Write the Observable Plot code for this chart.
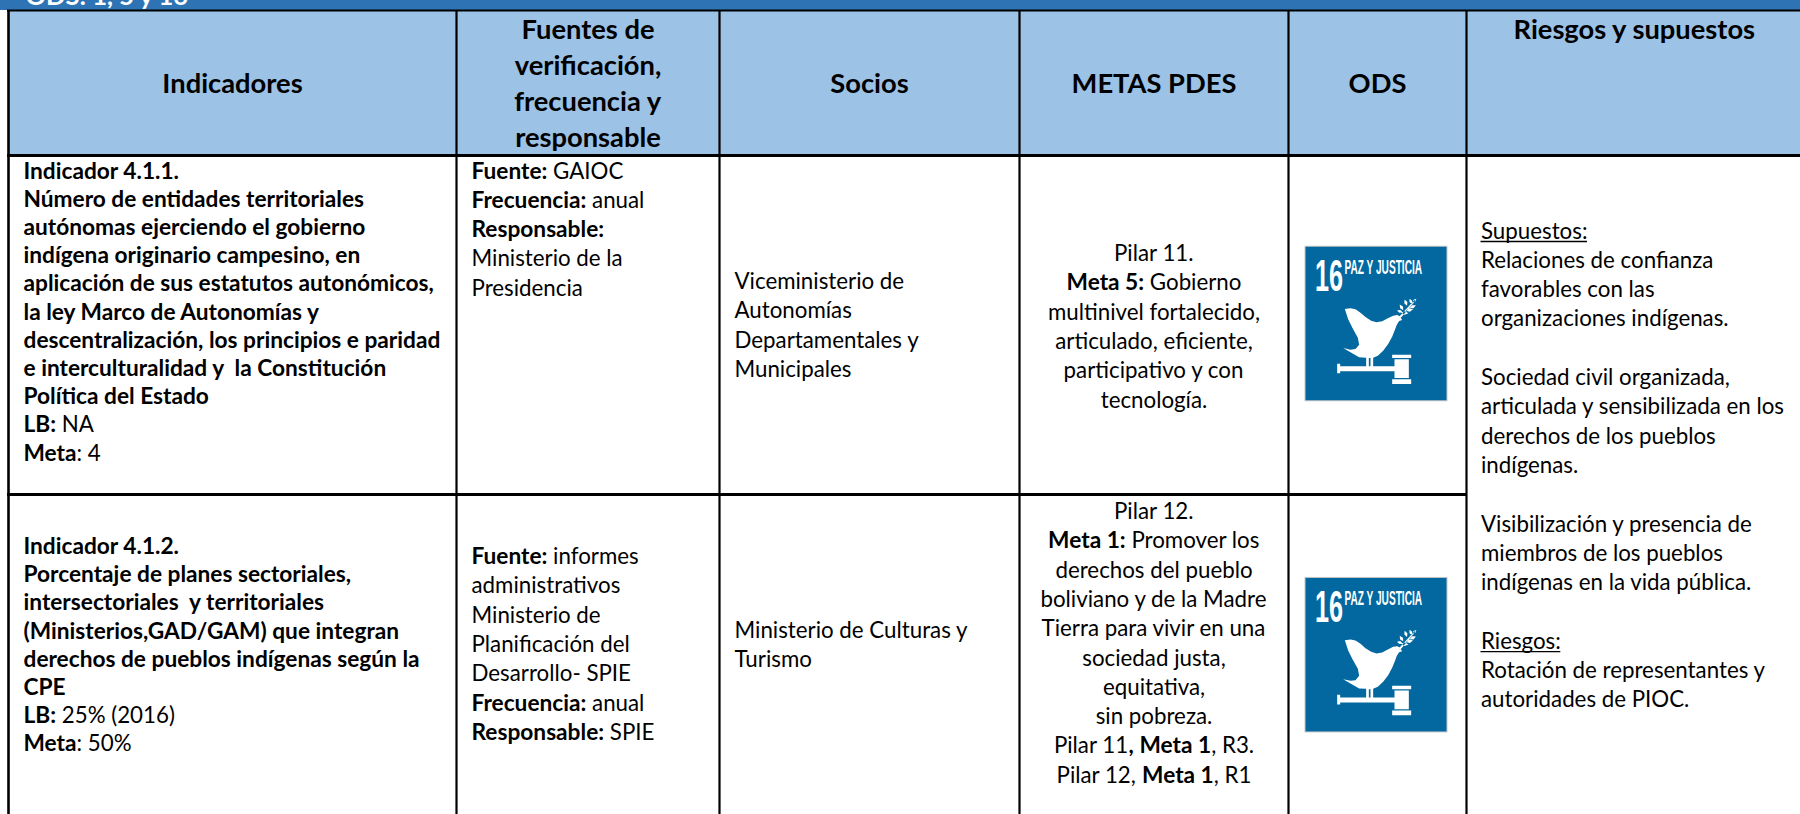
<!DOCTYPE html>
<html lang="es">
<head>
<meta charset="utf-8">
<title>Indicadores, fuentes, socios, metas PDES, ODS y riesgos</title>
<script src="https://cdn.jsdelivr.net/npm/d3@7"></script>
<script src="https://cdn.jsdelivr.net/npm/@observablehq/plot@0.6"></script>
<style>
html,body{margin:0;padding:0;background:#fff;overflow:hidden}
svg{display:block}
</style>
</head>
<body>
<div id="chart"></div>
<script>
// ---- Content ----
const bandTitle = "ODS: 1, 5 y 16";
const headerIndicadores = ["Indicadores"];
const headerFuentes = ["Fuentes de", "verificación,", "frecuencia y", "responsable"];
const headerSocios = ["Socios"];
const headerMetas = ["METAS PDES"];
const headerOds = ["ODS"];
const headerRiesgos = ["Riesgos y supuestos"];

const indicador1 = [
  "**Indicador 4.1.1.**",
  "**Número de entidades territoriales**",
  "**autónomas ejerciendo el gobierno**",
  "**indígena originario campesino, en**",
  "**aplicación de sus estatutos autonómicos,**",
  "**la ley Marco de Autonomías y**",
  "**descentralización, los principios e paridad**",
  "**e interculturalidad y\u00A0 la Constitución**",
  "**Política del Estado**",
  "**LB:** NA",
  "**Meta**: 4"
];
const indicador2 = [
  "**Indicador 4.1.2.**",
  "**Porcentaje de planes sectoriales,**",
  "**intersectoriales\u00A0 y territoriales**",
  "**(Ministerios,GAD/GAM) que integran**",
  "**derechos de pueblos indígenas según la**",
  "**CPE**",
  "**LB:** 25% (2016)",
  "**Meta**: 50%"
];
const fuentes1 = ["**Fuente:** GAIOC", "**Frecuencia:** anual", "**Responsable:**", "Ministerio de la", "Presidencia"];
const fuentes2 = [
  "**Fuente:** informes", "administrativos", "Ministerio de", "Planificación del",
  "Desarrollo- SPIE", "**Frecuencia:** anual", "**Responsable:** SPIE"
];
const socios1 = ["Viceministerio de", "Autonomías", "Departamentales y", "Municipales"];
const socios2 = ["Ministerio de Culturas y", "Turismo"];
const metas1 = [
  "Pilar 11.", "**Meta 5:** Gobierno", "multinivel fortalecido,",
  "articulado, eficiente,", "participativo y con", "tecnología."
];
const metas2 = [
  "Pilar 12.", "**Meta 1:** Promover los", "derechos del pueblo", "boliviano y de la Madre",
  "Tierra para vivir en una", "sociedad justa,", "equitativa,", "sin pobreza.",
  "Pilar 11**, Meta 1**, R3.", "Pilar 12, **Meta 1**, R1"
];
const riesgos = [
  "__Supuestos:__", "Relaciones de confianza", "favorables con las", "organizaciones indígenas.", "",
  "Sociedad civil organizada,", "articulada y sensibilizada en los", "derechos de los pueblos", "indígenas.", "",
  "Visibilización y presencia de", "miembros de los pueblos", "indígenas en la vida pública.", "",
  "__Riesgos:__", "Rotación de representantes y", "autoridades de PIOC."
];
const iconNumber = "16";
const iconLabel = "PAZ Y JUSTICIA";

// ---- Layout (kept apart from the content) ----
const W = 1800, H = 814;
const FONT = "Lato, Carlito, sans-serif";
const ICON_FONT = "'Liberation Sans'";
const BODY = 22.3, BODY_BOLD = 22.7, HEAD = 27.3;
const edges = [8, 456, 719, 1019, 1288, 1466, 1800];
const rows = {bandEnd: 10, head: 155, sep: 494, end: H};
const center = i => (edges[i] + edges[i + 1]) / 2;
const pad = [23, 471, 734, 0, 0, 1480.5];

const canvas = document.createElement("canvas").getContext("2d");
function measure(t, weight, size, family = FONT) {
  canvas.font = `${weight} ${size}px ${family}`;
  return canvas.measureText(t).width;
}
function parse(line) {
  const parts = line.split(/(\*\*.*?\*\*|__.*?__)/).filter(d => d !== "");
  return parts.map(p => {
    if (p.startsWith("**")) return {t: p.slice(2, -2), w: 700, u: false};
    if (p.startsWith("__")) return {t: p.slice(2, -2), w: 400, u: true};
    return {t: p, w: 400, u: false};
  });
}
const runs = [], unders = [];
function block(lines, {x, align = "start", y, pitch, head = false}) {
  lines.forEach((line, k) => {
    if (!line) return;
    const ps = parse(line);
    ps.forEach(p => {
      if (head) p.w = 700;
      p.size = head ? HEAD : p.w === 700 ? BODY_BOLD : BODY;
      p.len = measure(p.t, p.w, p.size);
    });
    const total = d3.sum(ps, p => p.len);
    let cx = align === "middle" ? x - total / 2 : x;
    const by = y + pitch * k;
    for (const p of ps) {
      const lead = p.t.length - p.t.trimStart().length;
      const offset = lead ? measure(p.t.slice(0, lead), p.w, p.size) : 0;
      runs.push({text: p.t.trim(), x: cx + offset, y: by, w: p.w, size: p.size});
      if (p.u) unders.push({x1: cx, x2: cx + p.len, y: by + 3});
      cx += p.len;
    }
  });
}
block(headerIndicadores, {x: center(0), align: "middle", y: 92, pitch: 36, head: true});
block(headerFuentes, {x: center(1), align: "middle", y: 38, pitch: 36.2, head: true});
block(headerSocios, {x: center(2), align: "middle", y: 92, pitch: 36, head: true});
block(headerMetas, {x: center(3), align: "middle", y: 92, pitch: 36, head: true});
block(headerOds, {x: center(4), align: "middle", y: 92, pitch: 36, head: true});
block(headerRiesgos, {x: center(5) + 1.5, align: "middle", y: 38, pitch: 36, head: true});
block(indicador1, {x: pad[0], y: 178, pitch: 28.2});
block(indicador2, {x: pad[0], y: 553.5, pitch: 28.2});
block(fuentes1, {x: pad[1], y: 178, pitch: 29.3});
block(fuentes2, {x: pad[1], y: 563.5, pitch: 29.3});
block(socios1, {x: pad[2], y: 288.5, pitch: 29.3});
block(socios2, {x: pad[2], y: 637, pitch: 29.3});
block(metas1, {x: center(3), align: "middle", y: 260.5, pitch: 29.3});
block(metas2, {x: center(3), align: "middle", y: 518.5, pitch: 29.3});
block(riesgos, {x: pad[5], y: 238, pitch: 29.3});

const bands = [
  {x1: 0, x2: W, y1: 0, y2: rows.bandEnd, fill: "#2E74B5"},
  {x1: 8, x2: W, y1: rows.bandEnd, y2: rows.head, fill: "#9CC2E5"}
];
const vertical = edges.slice(0, 6).map((x, i) => ({x, w: i === 0 ? 2.6 : 2.2}));
const horizontal = [
  {x1: 7, x2: W, y: 10, w: 2.2},
  {x1: 7, x2: W, y: rows.head, w: 3},
  {x1: 7, x2: edges[5], y: rows.sep, w: 3}
];
const icons = [{x: 1376, y: 323.5}, {x: 1376, y: 654.7}];
const iconW = 141, iconH = 153.5;

// Custom symbol: dove and gavel, drawn in local units around the icon centre.
const doveGavel = {
  draw(c, size) {
    const s = Math.sqrt(size / Math.PI) / 300, X = u => (u - 228) * s, Y = v => (v - 250) * s;
    const poly = pts => {
      pts.forEach(([a, b], i) => i ? c.lineTo(X(a), Y(b)) : c.moveTo(X(a), Y(b)));
      c.closePath();
    };
    poly([[133,205],[150,203],[165,206],[180,216],[195,229],[212,240],[228,245],[245,242],[262,233],[278,225],[290,223],[297,226],[305,238],[296,241],[289,252],[283,268],[275,288],[263,310],[248,330],[232,345],[218,351],[218,378],[210,378],[210,352],[205,352],[205,378],[197,378],[197,351],[176,350],[155,338],[128,322],[150,327],[165,325],[176,312],[172,291],[156,262],[143,236]]);
    poly([[110,369],[119,369],[119,377],[284,377],[284,392],[119,392],[119,398],[110,398]]);
    poly([[275,342],[332,342],[332,352],[275,352]]);
    poly([[282,356],[325,356],[325,412],[282,412]]);
    poly([[275,416],[332,416],[332,430],[275,430]]);
    poly([[297,228],[300,224],[342,178],[345,180],[303,229],[300,232]]);
    const leaf = (a, b, r, q) => {
      const dx = Math.cos(q) * r, dy = Math.sin(q) * r, nx = -dy * .5, ny = dx * .5;
      poly([[a - dx, b - dy], [a + nx, b + ny], [a + dx, b + dy], [a - nx, b - ny]]);
    };
    [[303,200,10,1],[316,186,10,1.2],[298,212,9,.3],[313,217,11,.1],[327,208,11,-.2],[337,198,10,-.4],[331,182,9,1.1],[342,180,8,-.8]]
      .forEach(d => leaf(...d));
  }
};

// Squeeze the condensed lettering of the icon to its real width.
const fitWidth = (len, label, size) => (index, scales, values, dims, ctx, next) => {
  const g = next(index, scales, values, dims, ctx);
  const sx = len / measure(label, 700, size, ICON_FONT);
  g.querySelectorAll("text").forEach(t => {
    t.setAttribute("transform", `${t.getAttribute("transform") || ""} scale(${sx},1)`);
  });
  return g;
};

const textMark = (data, w) => Plot.text(data, {
  x: "x", y: "y", text: "text", fontSize: d => d.size, fontWeight: w,
  fontFamily: FONT, textAnchor: "start", lineAnchor: "bottom", fill: "#000"
});

const plot = Plot.plot({
  width: W, height: H, margin: 0,
  style: {background: "#fff", maxWidth: "none"},
  x: {domain: [0, W], range: [0, W], axis: null},
  y: {domain: [0, H], range: [0, H], axis: null},
  marks: [
    Plot.rect(bands, {x1: "x1", x2: "x2", y1: "y1", y2: "y2", fill: "fill"}),
    Plot.text([bandTitle], {
      x: () => 25, y: () => 4, text: d => d, fill: "#fff", fontSize: 25.5, fontWeight: 700,
      fontFamily: FONT, textAnchor: "start", lineAnchor: "bottom"
    }),
    Plot.ruleX(vertical, {x: "x", y1: rows.bandEnd, y2: rows.end, stroke: "#000", strokeWidth: "w"}),
    Plot.ruleY(horizontal, {x1: "x1", x2: "x2", y: "y", stroke: "#000", strokeWidth: "w"}),
    textMark(runs.filter(d => d.w === 400), 400),
    textMark(runs.filter(d => d.w === 700), 700),
    Plot.ruleY(unders, {x1: "x1", x2: "x2", y: "y", stroke: "#000", strokeWidth: 1.3}),
    Plot.rect(icons, {
      x1: d => d.x - iconW / 2 - 1, x2: d => d.x + iconW / 2 + 1,
      y1: d => d.y - iconH / 2 - 1, y2: d => d.y + iconH / 2 + 1, fill: "#9a9a9a", fillOpacity: 0.55
    }),
    Plot.rect(icons, {
      x1: d => d.x - iconW / 2, x2: d => d.x + iconW / 2,
      y1: d => d.y - iconH / 2, y2: d => d.y + iconH / 2, fill: "#02689F"
    }),
    Plot.dot(icons, {x: "x", y: "y", r: 100, symbol: doveGavel, fill: "#fff", stroke: "none"}),
    Plot.text(icons, {
      x: d => d.x - 61.5, y: d => d.y - 33.5, text: () => iconNumber, fill: "#fff",
      fontFamily: ICON_FONT, fontWeight: 700, fontSize: 44,
      textAnchor: "start", lineAnchor: "bottom", render: fitWidth(28, iconNumber, 44)
    }),
    Plot.text(icons, {
      x: d => d.x - 32, y: d => d.y - 50.5, text: () => iconLabel, fill: "#fff",
      fontFamily: ICON_FONT, fontWeight: 700, fontSize: 20,
      textAnchor: "start", lineAnchor: "bottom", render: fitWidth(78, iconLabel, 20)
    })
  ]
});
document.getElementById("chart").append(plot);
</script>
</body>
</html>
